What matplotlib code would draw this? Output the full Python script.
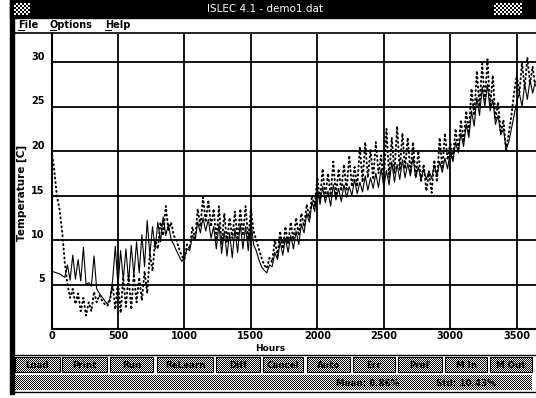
import numpy as np
import matplotlib
matplotlib.use('Agg')
import matplotlib.pyplot as plt
from matplotlib.patches import Rectangle

# ---------------- data ----------------
step_hours = 20
solid = [
    6.5, 6.4, 6.3, 6.2, 6.0, 5.8, 7.2, 5.5, 8.3, 5.6,
    7.8, 5.4, 9.2, 5.0, 5.2, 4.8, 8.2, 4.5, 4.0, 3.6,
    3.2, 2.8, 3.4, 5.5, 9.3, 4.8, 8.8, 5.5, 9.0, 5.3,
    9.4, 6.0, 9.8, 6.3, 10.6, 7.0, 12.2, 8.3, 11.5, 9.0,
    12.0, 9.8, 12.6, 10.5, 11.8, 10.0, 9.5, 8.8, 8.2, 7.6,
    8.0, 9.0, 8.8, 10.5, 10.0, 12.0, 10.8, 12.5, 11.0, 12.3,
    10.2, 11.5, 9.0, 11.8, 8.5, 11.0, 8.2, 10.8, 8.0, 11.3,
    8.6, 11.8, 9.0, 11.5, 8.8, 12.2, 9.5, 8.8, 7.8, 7.0,
    6.6, 6.3, 7.2, 7.0, 8.6, 7.8, 9.8, 8.3, 10.2, 8.6,
    10.5, 9.0, 11.0, 9.5, 11.8, 10.8, 13.0, 12.0, 14.3, 13.2,
    15.8, 14.0, 16.0, 14.2, 15.5, 13.8, 16.2, 14.5, 15.8, 14.3,
    16.2, 14.8, 16.0, 15.0, 16.8, 15.2, 16.5, 15.4, 17.2, 15.6,
    17.0, 15.8, 17.5, 15.9, 18.0, 16.0, 17.8, 16.2, 18.8, 16.5,
    18.5, 16.8, 19.0, 17.0, 18.6, 17.2, 19.3, 17.0, 18.2, 16.8,
    18.0, 16.8, 17.8, 16.9, 18.4, 17.2, 18.8, 17.6, 19.2, 18.0,
    20.0, 18.8, 21.0, 19.8, 22.0, 20.5, 23.0, 21.5, 24.5, 22.8,
    26.0, 24.0, 27.2, 25.0, 27.5, 24.5, 25.8, 23.0, 24.0, 21.8,
    22.5, 20.2, 21.0, 22.5, 24.0, 25.5, 26.5, 25.0, 27.5, 25.8,
    28.0, 26.5, 27.8]
dotted = [
    20.0, 18.0, 15.0, 13.5, 11.0, 7.5, 5.0, 3.5, 4.5, 2.8,
    4.0, 2.0, 3.5, 1.5, 3.0, 2.0, 4.2, 3.0, 3.8, 3.2,
    2.8, 2.6, 3.2, 5.0, 2.2, 5.5, 1.8, 5.8, 2.5, 6.0,
    2.2, 6.2, 3.0, 5.8, 3.2, 6.5, 4.0, 8.5, 6.5, 10.0,
    9.0, 12.0, 10.5, 13.8, 11.0, 12.0, 10.5, 10.0, 9.0, 8.2,
    7.8, 9.5, 9.0, 11.5, 10.0, 13.5, 11.5, 14.8, 12.0, 14.5,
    11.5, 13.5, 10.0, 13.8, 9.5, 13.0, 9.8, 12.5, 10.2, 13.2,
    10.0, 13.5, 10.5, 13.8, 10.0, 13.5, 11.0, 10.0, 9.0, 8.0,
    7.2, 6.8, 8.0, 7.5, 10.0, 8.2, 11.0, 9.0, 11.5, 9.5,
    12.0, 10.0, 12.5, 10.5, 13.0, 11.5, 14.0, 12.5, 15.0, 13.8,
    17.0, 14.5, 18.0, 14.8, 17.5, 15.0, 18.8, 15.0, 18.0, 15.5,
    18.5, 15.5, 19.5, 16.0, 18.2, 16.0, 20.5, 16.5, 21.0, 17.0,
    20.2, 16.8, 21.0, 17.5, 19.5, 16.5, 22.5, 17.0, 21.5, 17.5,
    22.8, 17.8, 22.0, 18.0, 21.5, 17.5, 21.0, 17.0, 20.0, 16.5,
    18.5, 15.5, 17.5, 15.3, 19.0, 16.5, 21.5, 18.0, 22.0, 19.0,
    21.0, 19.0, 22.5, 20.0, 23.5, 21.0, 24.5, 22.0, 27.0, 24.0,
    29.0, 25.0, 29.8, 25.5, 30.3, 25.0, 28.5, 23.5, 25.5, 22.0,
    23.5, 20.0, 22.0, 24.0, 26.5, 28.5, 26.5, 30.0, 27.0, 30.5,
    27.5, 29.5, 27.0]
hours = np.arange(len(solid)) * step_hours

x_ticks = [0, 500, 1000, 1500, 2000, 2500, 3000, 3500]
y_ticks = [5, 10, 15, 20, 25, 30]
buttons = ["Load", "Print", "Run", "ReLearn", "Diff", "Cancel",
           "Auto", "Err", "Pref", "M In", "M Out"]
title = "ISLEC 4.1 - demo1.dat"
menus = ["File", "Options", "Help"]
status = ["Mean: 8.86%", "Std: 10.43%"]

# ---------------- figure ----------------
W, H = 536, 398
fig = plt.figure(figsize=(W / 100, H / 100), dpi=100)
fig.patch.set_facecolor('white')

bg = fig.add_axes([0, 0, 1, 1])
bg.set_xlim(0, W)
bg.set_ylim(H, 0)
bg.axis('off')


def dither(x0, y0, x1, y1, z=1):
    h = int(round(y1 - y0)); w = int(round(x1 - x0))
    ii, jj = np.indices((h, w))
    img = ((ii + jj) % 2).astype(float)
    bg.imshow(img, cmap='gray', vmin=0, vmax=1, extent=(x0, x1, y1, y0),
              interpolation='nearest', aspect='auto', zorder=z)


# window frame
bg.add_patch(Rectangle((10, 0), 4, 394, color='black', zorder=3))
# title bar
bg.add_patch(Rectangle((10, 0), W - 10, 18, color='black', zorder=2))
bg.text(265, 9.5, title, color='white', fontsize=7.5, ha='center', va='center',
        family='DejaVu Sans', zorder=4)
# control boxes
ii, jj = np.indices((12, 16))
bg.imshow(((ii // 2 + jj // 2) % 2).astype(float), cmap='gray', extent=(14, 30, 15, 3),
          interpolation='nearest', aspect='auto', zorder=4)
ii, jj = np.indices((12, 28))
bg.imshow(((ii // 2 + jj // 2) % 2).astype(float), cmap='gray', extent=(494, 522, 15, 3),
          interpolation='nearest', aspect='auto', zorder=4)

# menu
menu_x = [18, 50, 105]
for mx, m in zip(menu_x, menus):
    bg.text(mx, 25.5, m, fontsize=7, fontweight='bold', ha='left', va='center',
            family='DejaVu Sans', zorder=4)
    bg.plot([mx, mx + 5.5], [30, 30], color='black', lw=0.8, zorder=4)
bg.plot([14, W], [33, 33], color='black', lw=1.2, zorder=4)

# axis label texts
bg.text(22, 193, "Temperature [C]", rotation=90, fontsize=7.5, fontweight='bold',
        ha='center', va='center', zorder=4)
bg.text(270, 348.5, "Hours", fontsize=6.5, fontweight='bold', ha='center', va='center', zorder=4)

# separator above buttons
bg.plot([14, W], [354.5, 354.5], color='black', lw=1.0, zorder=4)

# buttons
btn_x = [(15, 60), (62, 107), (110, 153), (157, 213), (216, 260), (263, 303),
         (307, 350), (353, 395), (398, 442), (445, 487), (490, 532)]
for (x0, x1), lab in zip(btn_x, buttons):
    dither(x0, 357, x1, 372, z=2)
    bg.add_patch(Rectangle((x0, 357), x1 - x0, 15, fill=False, ec='black', lw=0.8, zorder=3))
    bg.text((x0 + x1) / 2, 365, lab, fontsize=6.3, fontweight='bold', ha='center',
            va='center', zorder=4)

# status bar
dither(15, 375, 532, 390, z=2)
bg.text(368, 383, status[0], fontsize=6.3, fontweight='bold', ha='center', va='center', zorder=4)
bg.text(466, 383, status[1], fontsize=6.3, fontweight='bold', ha='center', va='center', zorder=4)
bg.plot([14, W], [392, 392], color='black', lw=1.0, zorder=4)

# ---------------- chart ----------------
px_left, px_right, px_top, px_bottom = 51.5, 536, 33.5, 329
ax = fig.add_axes([px_left / W, (H - px_bottom) / H,
                   (px_right - px_left) / W, (px_bottom - px_top) / H])
ax.set_facecolor('white')
ax.set_xlim(0, 3645)
ax.set_ylim(0, (px_bottom - px_top) / 8.9)

ax.plot(hours, dotted, color='black', lw=1.4, linestyle=(0, (0.5, 1.8)),
        dash_capstyle='round', zorder=3)
ax.plot(hours, solid, color='black', lw=0.8, zorder=4)

ax.set_xticks(x_ticks)
ax.set_yticks(y_ticks)
ax.set_xticklabels([str(v) for v in x_ticks], fontsize=7, fontweight='bold')
ax.set_yticklabels([str(v) for v in y_ticks], fontsize=7, fontweight='bold')
ax.tick_params(axis='x', length=0, pad=1.5)
ax.tick_params(axis='y', length=0, pad=5)
for lab in ax.get_yticklabels():
    lab.set_verticalalignment('bottom')
ax.grid(True, color='black', lw=1.3)
ax.set_axisbelow(True)
for s in ['top', 'right']:
    ax.spines[s].set_visible(False)
for s in ['left', 'bottom']:
    ax.spines[s].set_linewidth(1.5)

fig.savefig('out.png', dpi=100)
